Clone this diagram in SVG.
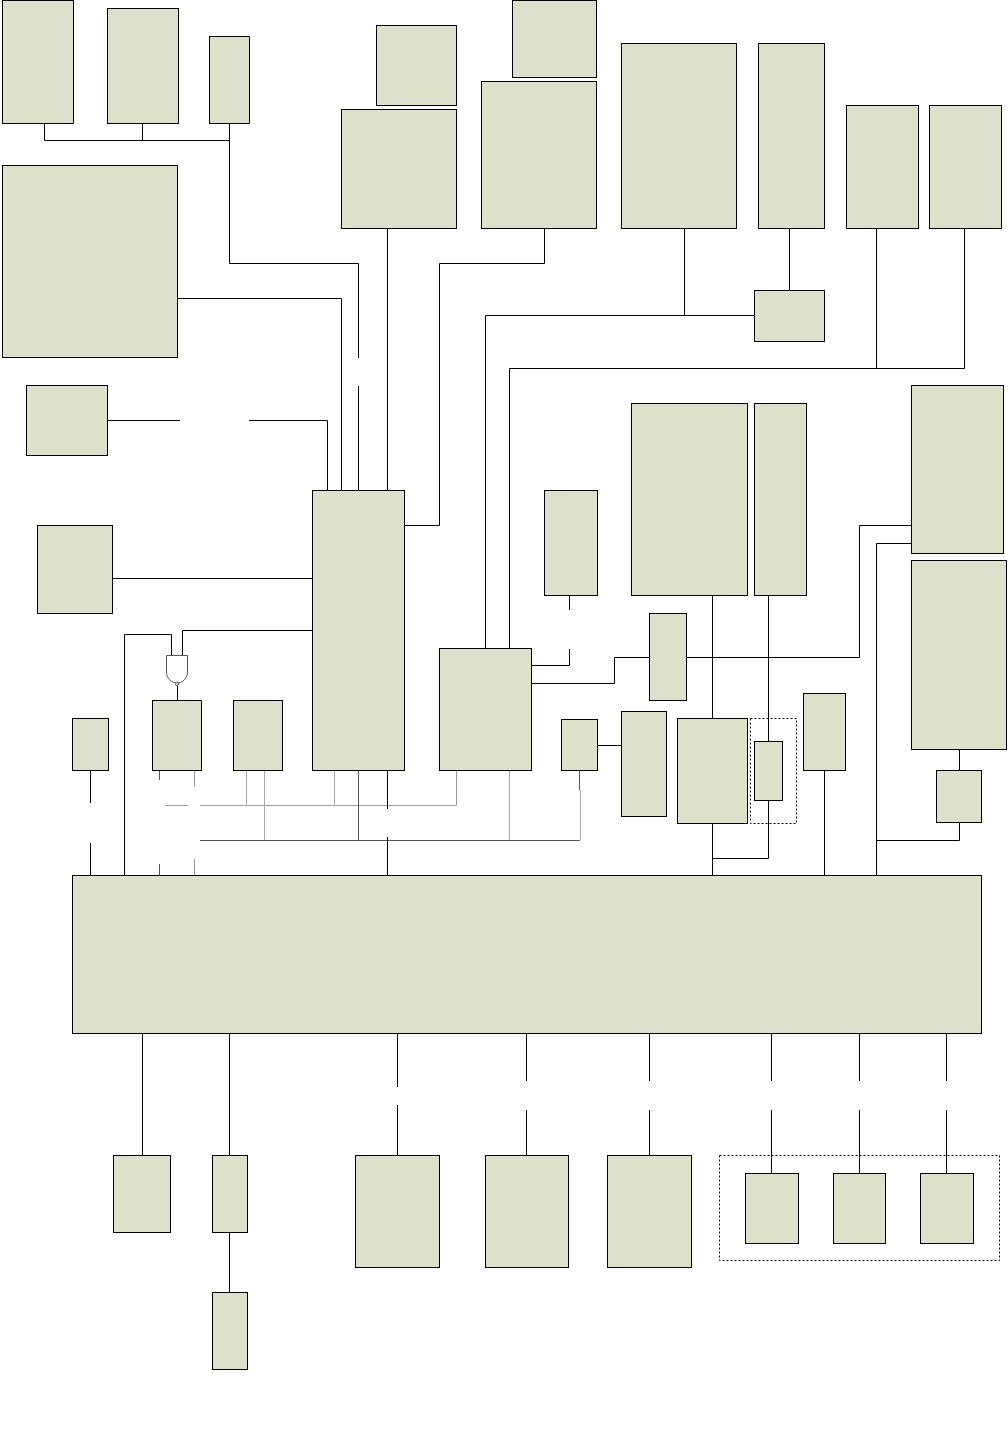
<svg xmlns="http://www.w3.org/2000/svg" width="1008" height="1446" viewBox="0 0 1008 1446">
<style>
rect.n{fill:#dde1cc;stroke:#000;stroke-width:1}
rect.d{fill:none;stroke:#000;stroke-width:1;stroke-dasharray:2 2}
#connectors path{fill:none;stroke:#000;stroke-width:1}
#connectors path.g1{stroke:#999}
#connectors path.g2{stroke:#555}
#connectors path.g3{stroke:#aaa}
#gate path{fill:#fff;stroke:#555;stroke-width:1}
</style>
<rect width="1008" height="1446" fill="#fff"/>
<g id="connectors">
<path d="M44.500 123V140.500H229.500M142.500 123V140.500M229.500 123V263.500H358.500V358M358.500 386V490"/>
<path d="M178 298.500H341.500V490"/>
<path d="M387.500 228V490"/>
<path d="M544.500 228V263.500H439.500V525.500H404"/>
<path d="M107 420.500H180M249 420.500H327.500V490"/>
<path d="M112 578.500H312"/>
<path d="M312 630.500H182.500V655"/>
<path d="M124.500 875V634.500H171.500V655"/>
<path d="M177.500 685V700"/>
<path d="M90.500 770V803M90.500 843V875"/>
<path class="g2" d="M159.500 770V780M159.500 864V875"/>
<path class="g1" d="M194.500 770V787M194.500 859V875"/>
<path class="g1" d="M165 805.500H188M200 805.500H456.500V770"/>
<path class="g2" d="M200 840.500H580M358.500 770V840"/>
<path class="g3" d="M246.500 770V805M264.500 770V840M334.500 770V805M509.500 770V840M580.500 790V840"/>
<path class="g2" d="M579.500 770V790"/>
<path d="M387.500 770V809M387.500 837V875"/>
<path d="M485.500 648V315.500H754M684.500 228V315"/>
<path d="M789.500 228V290"/>
<path d="M509.500 648V368.500H964.500V228M876.500 228V368"/>
<path d="M531 665.500H569.500V649M569.500 595V610"/>
<path d="M531 683.500H614.500V657.500H649"/>
<path d="M686 657.500H859.500V525.500H911"/>
<path d="M876.500 875V543.500H911"/>
<path d="M712.500 595V718M768.500 595V741M597 745.500H621"/>
<path d="M712.500 823V875M768.500 800V858.500H712"/>
<path d="M824.500 770V875"/>
<path d="M959.500 749V770M959.500 822V840.500H876"/>
<path d="M142.500 1033V1155M229.500 1033V1155M229.500 1232V1292"/>
<path d="M397.500 1033V1087M397.500 1105V1155"/>
<path d="M526.500 1033V1081M526.500 1110V1155"/>
<path d="M649.500 1033V1081M649.500 1110V1155"/>
<path d="M771.500 1033V1081M771.500 1110V1173"/>
<path d="M859.500 1033V1081M859.500 1110V1173"/>
<path d="M946.500 1033V1081M946.500 1110V1173"/>
</g>
<g id="gate"><path d="M166.500 655.500H187.500V672C187.500 679 182 683 177 683C172 683 166.500 679 166.500 672Z"/><circle cx="177" cy="684" r="1.500" fill="#fff" stroke="#555"/></g>
<g id="n1"><rect class="n" x="2.500" y="0.500" width="71" height="123"/></g>
<g id="n2"><rect class="n" x="107.500" y="8.500" width="71" height="115"/></g>
<g id="n3"><rect class="n" x="209.500" y="36.500" width="40" height="87"/></g>
<g id="n4"><rect class="n" x="376.500" y="25.500" width="80" height="80"/></g>
<g id="n5"><rect class="n" x="341.500" y="109.500" width="115" height="119"/></g>
<g id="n6"><rect class="n" x="512.500" y="0.500" width="84" height="77"/></g>
<g id="n7"><rect class="n" x="481.500" y="81.500" width="115" height="147"/></g>
<g id="n8"><rect class="n" x="621.500" y="43.500" width="115" height="185"/></g>
<g id="n9"><rect class="n" x="758.500" y="43.500" width="66" height="185"/></g>
<g id="n10"><rect class="n" x="846.500" y="105.500" width="72" height="123"/></g>
<g id="n11"><rect class="n" x="929.500" y="105.500" width="72" height="123"/></g>
<g id="n12"><rect class="n" x="2.500" y="165.500" width="175" height="192"/></g>
<g id="n13"><rect class="n" x="754.500" y="290.500" width="70" height="51"/></g>
<g id="n14"><rect class="n" x="26.500" y="385.500" width="81" height="70"/></g>
<g id="n15"><rect class="n" x="631.500" y="403.500" width="116" height="192"/></g>
<g id="n16"><rect class="n" x="754.500" y="403.500" width="52" height="192"/></g>
<g id="n17"><rect class="n" x="911.500" y="385.500" width="92" height="168"/></g>
<g id="n18"><rect class="n" x="312.500" y="490.500" width="92" height="280"/></g>
<g id="n19"><rect class="n" x="544.500" y="490.500" width="53" height="105"/></g>
<g id="n20"><rect class="n" x="37.500" y="525.500" width="75" height="88"/></g>
<g id="n21"><rect class="n" x="911.500" y="560.500" width="95" height="189"/></g>
<g id="n22"><rect class="n" x="649.500" y="613.500" width="37" height="87"/></g>
<g id="n23"><rect class="n" x="439.500" y="648.500" width="92" height="122"/></g>
<g id="n24"><rect class="n" x="72.500" y="718.500" width="36" height="52"/></g>
<g id="n25"><rect class="n" x="152.500" y="700.500" width="49" height="70"/></g>
<g id="n26"><rect class="n" x="233.500" y="700.500" width="49" height="70"/></g>
<g id="n27"><rect class="n" x="561.500" y="719.500" width="36" height="51"/></g>
<g id="n28"><rect class="n" x="621.500" y="711.500" width="45" height="105"/></g>
<g id="n29"><rect class="n" x="677.500" y="718.500" width="70" height="105"/></g>
<g id="group-a"><rect class="d" x="750.500" y="718.500" width="46" height="105"/></g>
<g id="n30"><rect class="n" x="754.500" y="741.500" width="28" height="59"/></g>
<g id="n31"><rect class="n" x="803.500" y="693.500" width="42" height="77"/></g>
<g id="n32"><rect class="n" x="936.500" y="770.500" width="45" height="52"/></g>
<g id="bus"><rect class="n" x="72.500" y="875.500" width="909" height="158"/></g>
<g id="b1"><rect class="n" x="113.500" y="1155.500" width="57" height="77"/></g>
<g id="b2"><rect class="n" x="212.500" y="1155.500" width="35" height="77"/></g>
<g id="b3"><rect class="n" x="212.500" y="1292.500" width="35" height="77"/></g>
<g id="b4"><rect class="n" x="355.500" y="1155.500" width="84" height="112"/></g>
<g id="b5"><rect class="n" x="485.500" y="1155.500" width="83" height="112"/></g>
<g id="b6"><rect class="n" x="607.500" y="1155.500" width="84" height="112"/></g>
<g id="group-b"><rect class="d" x="719.500" y="1155.500" width="280" height="105"/></g>
<g id="b7"><rect class="n" x="745.500" y="1173.500" width="53" height="70"/></g>
<g id="b8"><rect class="n" x="833.500" y="1173.500" width="52" height="70"/></g>
<g id="b9"><rect class="n" x="920.500" y="1173.500" width="53" height="70"/></g>
</svg>
